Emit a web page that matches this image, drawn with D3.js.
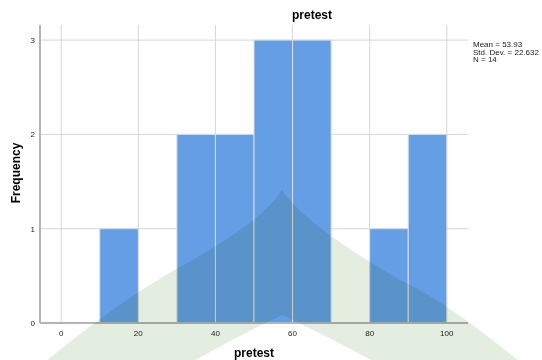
<!DOCTYPE html>
<html>
<head>
<meta charset="utf-8">
<script src="https://cdn.jsdelivr.net/npm/d3@7"></script>
<style>
  body { margin: 0; background: #fff; }
  text { font-family: "Liberation Sans", Arial, sans-serif; }
</style>
</head>
<body>
<figure id="hist" style="margin:0"></figure>
<script>
// histogram bins of pretest scores
const binLower = [10, 20, 30, 40, 50, 60, 70, 80, 90];
const binUpper = [20, 30, 40, 50, 60, 70, 80, 90, 100];
const counts = [1, 0, 2, 2, 3, 3, 0, 1, 2];
const xTicks = [0, 20, 40, 60, 80, 100];
const yTicks = [0, 1, 2, 3];
const statLines = ["Mean = 53.93", "Std. Dev. = 22.632", "N = 14"];
const title = "pretest";
const xTitle = "pretest";
const yTitle = "Frequency";

const W = 542, H = 360;
const plotLeft = 40, plotRight = 468, plotTop = 25, plotBottom = 323;

const svg = d3.select("figure#hist")
  .append("svg")
  .attr("width", W)
  .attr("height", H);

const x = d3.scaleLinear().domain([-5.5, 105.5]).range([plotLeft, plotRight]);
const y = d3.scaleLinear().domain([0, 3.16]).range([plotBottom, plotTop]);

// grid lines
svg.append("g")
  .selectAll("line")
  .data(xTicks)
  .enter()
  .append("line")
  .attr("x1", d => x(d)).attr("x2", d => x(d))
  .attr("y1", plotTop).attr("y2", plotBottom)
  .attr("stroke", "#d6d6d6");

svg.append("g")
  .selectAll("line")
  .data(yTicks.filter(d => d > 0))
  .enter()
  .append("line")
  .attr("x1", plotLeft).attr("x2", plotRight)
  .attr("y1", d => y(d)).attr("y2", d => y(d))
  .attr("stroke", "#d6d6d6");

// bars
const bins = counts.map((c, i) => ({lo: binLower[i], hi: binUpper[i], n: c})).filter(d => d.n > 0);
svg.append("g")
  .selectAll("rect")
  .data(bins)
  .enter()
  .append("rect")
  .attr("x", d => x(d.lo))
  .attr("y", d => y(d.n))
  .attr("width", d => x(d.hi) - x(d.lo))
  .attr("height", d => y(0) - y(d.n))
  .attr("fill", "#649ee5")
  .attr("stroke", "#dedede")
  .attr("stroke-width", 1);

// axis lines
svg.append("line")
  .attr("x1", plotLeft).attr("x2", plotLeft).attr("y1", plotTop).attr("y2", plotBottom)
  .attr("stroke", "#b4b4b4").attr("stroke-width", 2);
svg.append("line")
  .attr("x1", plotLeft).attr("x2", plotRight).attr("y1", plotBottom).attr("y2", plotBottom)
  .attr("stroke", "#b4b4b4").attr("stroke-width", 2);

// tick labels
svg.append("g")
  .selectAll("text")
  .data(xTicks)
  .enter()
  .append("text")
  .attr("x", d => x(d))
  .attr("y", plotBottom + 13)
  .attr("text-anchor", "middle")
  .attr("font-size", 8)
  .attr("fill", "#222")
  .text(d => d);

svg.append("g")
  .selectAll("text")
  .data(yTicks)
  .enter()
  .append("text")
  .attr("x", plotLeft - 5)
  .attr("y", d => y(d) + 3)
  .attr("text-anchor", "end")
  .attr("font-size", 8)
  .attr("fill", "#222")
  .text(d => d);

// titles
svg.append("text")
  .attr("x", 312).attr("y", 19)
  .attr("text-anchor", "middle")
  .attr("font-size", 12).attr("font-weight", "bold")
  .text(title);

svg.append("text")
  .attr("x", 254).attr("y", 357)
  .attr("text-anchor", "middle")
  .attr("font-size", 12).attr("font-weight", "bold")
  .text(xTitle);

svg.append("text")
  .attr("transform", "translate(20,173) rotate(-90)")
  .attr("text-anchor", "middle")
  .attr("font-size", 12).attr("font-weight", "bold")
  .text(yTitle);

// summary statistics
svg.append("g")
  .selectAll("text")
  .data(statLines)
  .enter()
  .append("text")
  .attr("x", 473)
  .attr("y", (d, i) => 47 + i * 7.5)
  .attr("font-size", 8)
  .attr("fill", "#222")
  .text(d => d);

// faint watermark behind the chart (decoration, not data)
svg.append("path")
  .attr("d", "M282,190 Q262,222 180,267 Q120,300 40,366 L185,366 Q230,340 282,315 Q335,340 382,366 L525,366 Q445,300 400,280 Q305,225 282,190 Z")
  .attr("fill", "#e4eee0")
  .attr("fill-rule", "evenodd")
  .style("mix-blend-mode", "multiply");
</script>
</body>
</html>
